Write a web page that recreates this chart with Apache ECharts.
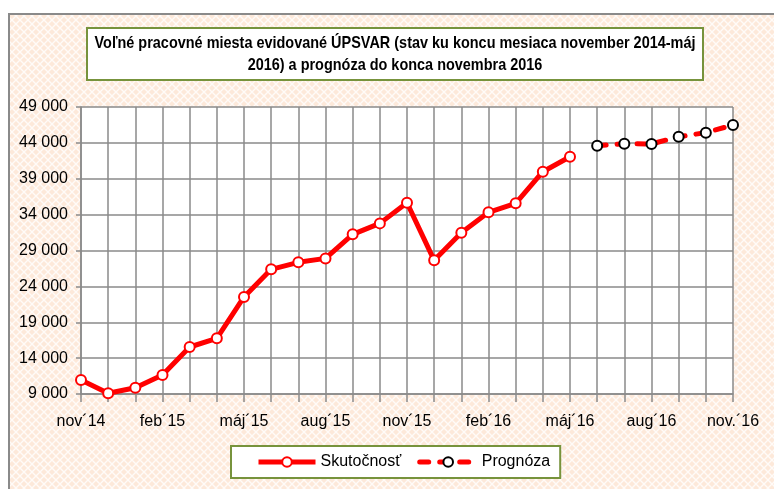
<!DOCTYPE html>
<html>
<head>
<meta charset="utf-8">
<script src="https://cdn.jsdelivr.net/npm/echarts@6/dist/echarts.min.js"></script>
<style>
html,body{margin:0;padding:0;background:#fff;}
#c{width:774px;height:489px;}
</style>
</head>
<body>
<div id="c"></div>
<script>
var categories = ['nov´14','dec´14','jan´15','feb´15','mar´15','apr´15','máj´15','jún´15','júl´15','aug´15','sep´15','okt´15','nov´15','dec´15','jan´16','feb´16','mar´16','apr´16','máj´16','jún´16','júl´16','aug´16','sep´16','okt´16','nov.´16'];
var actualValues = [10950, 9100, 9880, 11650, 15550, 16760, 22520, 26380, 27350, 27900, 31250, 32780, 35660, 27630, 31480, 34320, 35570, 39980, 42070];
var forecastValues = [43610, 43890, 43850, 44860, 45420, 46490];
var forecastStartIndex = 19;
var yMin = 9000, yMax = 49000, yStep = 5000;
var titleText = 'Voľné pracovné miesta evidované ÚPSVAR (stav ku koncu mesiaca november 2014-máj\n2016) a prognóza do konca novembra 2016';
var seriesNames = ['Skutočnosť', 'Prognóza'];

var forecastData = [];
for (var i = 0; i < categories.length; i++) {
  forecastData.push(i >= forecastStartIndex ? forecastValues[i - forecastStartIndex] : null);
}

// background lattice pattern
var pc = document.createElement('canvas');
pc.width = 8; pc.height = 8;
var pctx = pc.getContext('2d');
pctx.fillStyle = '#fde9da';
pctx.fillRect(0, 0, 8, 8);
pctx.strokeStyle = 'rgba(255,255,255,0.8)';
pctx.lineWidth = 1.4;
pctx.beginPath();
pctx.moveTo(0, 0); pctx.lineTo(8, 8);
pctx.moveTo(8, 0); pctx.lineTo(0, 8);
pctx.stroke();

var FONT = '"Liberation Sans", Arial, sans-serif';
var chart = echarts.init(document.getElementById('c'), null, {renderer: 'canvas'});
chart.setOption({
  backgroundColor: '#ffffff',
  animation: false,
  graphic: [{
    type: 'rect', z: -10, silent: true,
    shape: {x: 9, y: 14, width: 800, height: 520},
    style: {fill: {image: pc, repeat: 'repeat'}, stroke: '#8a8a8a', lineWidth: 2}
  }, {
    type: 'rect', z: 10, silent: true,
    shape: {x: 87, y: 28, width: 616, height: 52},
    style: {fill: '#ffffff', stroke: '#77933c', lineWidth: 2}
  }, {
    type: 'text', z: 11, silent: true,
    x: 395, y: 54, scaleX: 0.85,
    style: {text: titleText, fontFamily: FONT, fontWeight: 'bold', fontSize: 17, lineHeight: 22,
      fill: '#000', align: 'center', verticalAlign: 'middle'}
  }],
  legend: {
    data: seriesNames,
    left: 231, top: 446,
    backgroundColor: '#ffffff',
    borderColor: '#77933c', borderWidth: 2,
    padding: [8, 10, 8, 25],
    itemWidth: 57, itemHeight: 12, itemGap: 16,
    lineStyle: {width: 5},
    textStyle: {fontFamily: FONT, fontSize: 16, color: '#000'}
  },
  grid: {left: 81, right: 41, top: 107, bottom: 95, show: true, backgroundColor: '#ffffff', borderWidth: 0},
  xAxis: {
    type: 'category', boundaryGap: false, data: categories,
    axisLine: {lineStyle: {color: '#8a8a8a', width: 1.5}},
    axisTick: {show: true, interval: 0, length: 8, lineStyle: {color: '#8a8a8a', width: 1.5}},
    splitLine: {show: true, interval: 0, lineStyle: {color: '#8a8a8a', width: 1.5}},
    axisLabel: {interval: 2, margin: 20, fontFamily: FONT, fontSize: 16, color: '#000'}
  },
  yAxis: {
    type: 'value', min: yMin, max: yMax, interval: yStep,
    axisLine: {show: true, lineStyle: {color: '#8a8a8a', width: 1.5}},
    axisTick: {show: true, length: 5, lineStyle: {color: '#8a8a8a', width: 1.5}},
    splitLine: {show: true, lineStyle: {color: '#8a8a8a', width: 1.5}},
    axisLabel: {margin: 13, fontFamily: FONT, fontSize: 16, color: '#000',
      formatter: function (v) { return String(v).replace(/\B(?=(\d{3})+(?!\d))/g, ' '); }}
  },
  series: [{
    name: seriesNames[0], type: 'line', data: actualValues,
    symbol: 'circle', symbolSize: 10, showAllSymbol: true,
    lineStyle: {color: '#ff0000', width: 5},
    itemStyle: {color: '#ffffff', borderColor: '#ff0000', borderWidth: 2}
  }, {
    name: seriesNames[1], type: 'line', data: forecastData,
    symbol: 'circle', symbolSize: 10, showAllSymbol: true,
    lineStyle: {color: '#ff0000', width: 5, type: [9, 11], cap: 'round'},
    itemStyle: {color: '#ffffff', borderColor: '#000000', borderWidth: 2}
  }]
});
</script>
</body>
</html>
